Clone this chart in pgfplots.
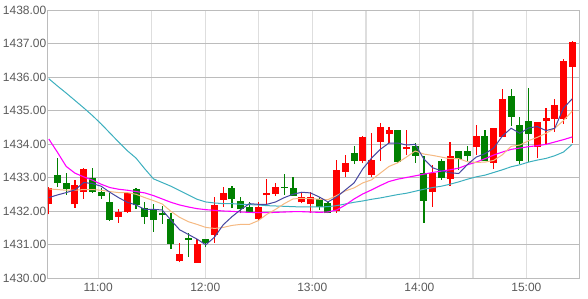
\documentclass[border=0pt]{standalone}
\usepackage{pgfplots}
\usepackage{pgfplotstable}
\pgfplotsset{compat=1.18}
\usepackage{fontspec}
\setmainfont{Liberation Sans}
\definecolor{upred}{RGB}{255,0,0}
\definecolor{dngreen}{RGB}{0,128,0}
\definecolor{maA}{RGB}{70,70,160}
\definecolor{maB}{RGB}{245,185,130}
\definecolor{maC}{RGB}{255,0,255}
\definecolor{maD}{RGB}{60,175,190}
\definecolor{hgrid}{RGB}{188,188,188}
\definecolor{vgrid}{RGB}{222,222,222}
\definecolor{lbl}{RGB}{90,90,90}

% red (rising) candles: i open high low close
\pgfplotstableread{
i o h l c
1 1432.22 1432.72 1431.90 1432.70
4 1432.20 1432.93 1432.10 1432.79
5 1432.58 1433.29 1432.36 1433.25
9 1431.83 1432.06 1431.65 1431.97
10 1431.98 1432.58 1431.95 1432.55
16 1430.52 1431.04 1430.47 1430.72
18 1430.46 1431.16 1430.46 1431.01
20 1431.28 1432.41 1431.05 1432.18
21 1432.33 1432.73 1432.13 1432.55
25 1431.76 1432.26 1431.70 1432.11
26 1432.47 1432.96 1432.20 1432.55
27 1432.51 1432.84 1432.46 1432.71
30 1432.26 1432.53 1432.23 1432.41
31 1432.20 1432.56 1431.95 1432.43
34 1432.01 1433.52 1431.95 1433.22
35 1433.17 1433.67 1433.02 1433.44
37 1433.49 1434.25 1433.42 1434.22
38 1433.07 1434.33 1433.02 1433.52
39 1434.07 1434.63 1433.50 1434.51
40 1434.31 1434.52 1434.02 1434.42
42 1433.85 1434.42 1433.67 1433.92
45 1432.58 1433.37 1432.13 1433.12
47 1432.95 1434.07 1432.75 1433.64
50 1433.92 1434.57 1433.67 1434.24
52 1433.44 1434.47 1433.25 1434.47
53 1434.22 1435.64 1434.22 1435.34
57 1433.92 1434.65 1433.57 1434.65
58 1434.70 1435.07 1433.97 1434.77
59 1434.74 1435.34 1434.37 1435.16
60 1434.74 1436.54 1434.59 1436.48
61 1436.31 1437.08 1434.02 1437.05
}\redc

% green (falling) candles: i open high low close
\pgfplotstableread{
i o h l c
2 1433.08 1433.59 1432.73 1432.84
3 1432.84 1433.14 1432.48 1432.66
6 1432.99 1433.28 1432.54 1432.56
7 1432.56 1432.70 1432.36 1432.46
8 1432.27 1432.53 1431.70 1431.74
11 1432.66 1432.70 1432.07 1432.17
12 1432.08 1432.28 1431.61 1431.83
13 1432.03 1432.20 1431.38 1431.74
14 1431.93 1432.16 1431.62 1431.87
15 1431.76 1431.93 1430.86 1431.02
17 1431.18 1431.33 1430.62 1431.14
19 1431.16 1431.16 1430.92 1431.05
22 1432.68 1432.76 1432.08 1432.35
23 1432.30 1432.43 1431.93 1432.05
24 1432.13 1432.28 1431.95 1431.95
28 1432.72 1433.11 1432.48 1432.69
29 1432.68 1433.02 1432.45 1432.45
32 1432.35 1432.41 1432.03 1432.13
33 1432.25 1432.28 1431.93 1431.93
36 1433.74 1433.94 1433.40 1433.50
41 1434.42 1434.42 1433.42 1433.46
43 1433.94 1434.04 1433.44 1433.65
44 1433.12 1433.64 1431.65 1432.31
46 1433.49 1433.55 1432.93 1433.00
48 1433.79 1433.79 1433.22 1433.54
49 1433.79 1433.94 1433.49 1433.64
51 1434.24 1434.42 1433.49 1433.49
54 1435.43 1435.64 1434.55 1434.81
55 1434.57 1434.81 1433.39 1433.50
56 1434.69 1435.68 1433.47 1434.29
}\greenc

% moving averages: i ma5 ma10 ma20 ma60
\pgfplotstableread{
i a b m t
1 1432.40 1432.66 1434.15 1435.95
2 1432.48 1432.64 1433.75 1435.73
3 1432.55 1432.62 1433.33 1435.52
4 1432.63 1432.62 1433.13 1435.30
5 1432.85 1432.64 1433.02 1435.08
6 1432.82 1432.64 1432.92 1434.85
7 1432.74 1432.62 1432.80 1434.60
8 1432.56 1432.58 1432.70 1434.33
9 1432.40 1432.55 1432.65 1434.06
10 1432.26 1432.55 1432.62 1433.80
11 1432.18 1432.50 1432.58 1433.58
12 1432.05 1432.40 1432.54 1433.26
13 1432.05 1432.31 1432.46 1432.96
14 1432.03 1432.21 1432.36 1432.85
15 1431.73 1431.99 1432.26 1432.74
16 1431.44 1431.81 1432.18 1432.61
17 1431.30 1431.68 1432.12 1432.48
18 1431.16 1431.60 1432.07 1432.35
19 1430.99 1431.51 1432.04 1432.27
20 1431.22 1431.48 1432.02 1432.24
21 1431.59 1431.51 1432.00 1432.22
22 1431.83 1431.57 1431.99 1432.22
23 1432.04 1431.60 1431.97 1432.20
24 1432.22 1431.60 1431.96 1432.19
25 1432.20 1431.71 1431.95 1432.18
26 1432.20 1431.90 1431.95 1432.16
27 1432.27 1432.05 1431.96 1432.15
28 1432.40 1432.22 1431.97 1432.14
29 1432.50 1432.36 1431.98 1432.13
30 1432.56 1432.38 1431.98 1432.12
31 1432.54 1432.37 1431.97 1432.12
32 1432.42 1432.35 1431.96 1432.12
33 1432.27 1432.34 1431.97 1432.13
34 1432.42 1432.46 1432.03 1432.16
35 1432.63 1432.60 1432.18 1432.21
36 1432.84 1432.69 1432.36 1432.26
37 1433.26 1432.84 1432.51 1432.30
38 1433.58 1432.93 1432.63 1432.35
39 1433.84 1433.13 1432.76 1432.39
40 1434.03 1433.33 1432.88 1432.44
41 1434.03 1433.44 1432.95 1432.49
42 1433.97 1433.61 1433.00 1432.53
43 1433.99 1433.79 1433.05 1432.59
44 1433.55 1433.70 1433.10 1432.65
45 1433.29 1433.66 1433.15 1432.70
46 1433.20 1433.61 1433.19 1432.74
47 1433.14 1433.56 1433.23 1432.80
48 1433.12 1433.56 1433.28 1432.87
49 1433.39 1433.47 1433.38 1432.95
50 1433.61 1433.45 1433.46 1433.02
51 1433.71 1433.46 1433.56 1433.07
52 1433.88 1433.51 1433.67 1433.15
53 1434.24 1433.68 1433.76 1433.23
54 1434.47 1433.93 1433.84 1433.32
55 1434.32 1433.97 1433.88 1433.38
56 1434.48 1434.10 1433.92 1433.46
57 1434.52 1434.20 1433.95 1433.52
58 1434.40 1434.32 1433.99 1433.57
59 1434.47 1434.47 1434.06 1433.65
60 1435.07 1434.70 1434.13 1433.76
61 1435.35 1434.98 1434.21 1433.99
}\mas

\begin{document}
\begin{tikzpicture}
\useasboundingbox (-48bp,-21bp) rectangle (540bp,278bp);
\begin{axis}[
  at={(0,0)}, anchor=south west,
  scale only axis, width=531bp, height=268bp,
  xmin=0.91, xmax=61.78, ymin=1430, ymax=1438,
  axis line style={hgrid, line width=1bp},
  ytick={1430,1431,...,1438},
  xtick={6.67,18.94,31.21,43.48,55.75},
  xticklabels={11:00,12:00,13:00,14:00,15:00},
  minor xtick={12.80,25.07,37.34,49.61},
  ymajorgrids, xmajorgrids, xminorgrids,
  y grid style={hgrid, line width=1bp},
  x grid style={vgrid, line width=1.4bp},
  tick style={draw=none},
  tick label style={font=\fontsize{12bp}{14bp}\selectfont, text=lbl},
  yticklabel style={inner sep=1.5bp},
  xticklabel style={yshift=-2bp},
  /pgf/number format/fixed,
  /pgf/number format/fixed zerofill,
  /pgf/number format/precision=2,
  /pgf/number format/1000 sep={},
  /pgf/number format/assume math mode=true,
  axis on top=false,
]
% wicks
\addplot[draw=none, mark=none, error bars/.cd, y dir=plus, y explicit, error mark=none,
  error bar style={draw=upred, line width=1.2bp}]
  table[x=i, y=l, y error plus expr=\thisrow{h}-\thisrow{l}] {\redc};
\addplot[draw=none, mark=none, error bars/.cd, y dir=plus, y explicit, error mark=none,
  error bar style={draw=dngreen, line width=1.2bp}]
  table[x=i, y=l, y error plus expr=\thisrow{h}-\thisrow{l}] {\greenc};
% bodies
\addplot[draw=none, mark=none, error bars/.cd, y dir=plus, y explicit, error mark=none,
  error bar style={draw=upred, line width=7bp}]
  table[x=i, y=o, y error plus expr=\thisrow{c}-\thisrow{o}] {\redc};
\addplot[draw=none, mark=none, error bars/.cd, y dir=plus, y explicit, error mark=none,
  error bar style={draw=dngreen, line width=7bp}]
  table[x=i, y=c, y error plus expr=\thisrow{o}-\thisrow{c}] {\greenc};
% moving averages
\addplot[maD, line width=1bp, mark=none] table[x=i, y=t] {\mas};
\addplot[maC, line width=1.1bp, mark=none] table[x=i, y=m] {\mas};
\addplot[maB, line width=1bp, mark=none] table[x=i, y=b] {\mas};
\addplot[maA, line width=1bp, mark=none] table[x=i, y=a] {\mas};
\end{axis}
\end{tikzpicture}
\end{document}
